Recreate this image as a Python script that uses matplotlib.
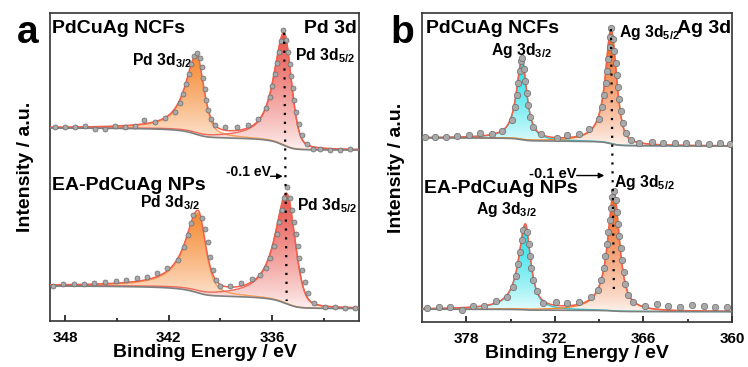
import numpy as np
import matplotlib
matplotlib.use("Agg")
import matplotlib.pyplot as plt
from matplotlib.colors import to_rgb

plt.rcParams['font.family'] = ['Liberation Sans', 'DejaVu Sans']
plt.rcParams['font.weight'] = 'bold'
plt.rcParams['mathtext.fontset'] = 'custom'
plt.rcParams['mathtext.rm'] = 'Liberation Sans:bold'
plt.rcParams['mathtext.it'] = 'Liberation Sans:bold'
plt.rcParams['mathtext.bf'] = 'Liberation Sans:bold'

# ---- measured points (binding energy / eV, intensity / a.u., stacked) ----
pd_ncf_E = [348.61, 348.03, 347.45, 346.87, 346.28, 345.70, 345.12, 344.54, 343.96, 343.42,
            342.80, 342.21, 341.63, 341.34, 341.15, 340.99, 340.85, 340.70, 340.53, 340.37,
            340.21, 340.09, 340.00, 339.92, 339.83, 339.71, 339.54, 339.31, 338.73, 338.05,
            337.41, 336.79, 336.34, 336.14, 335.99, 335.85, 335.73, 335.62, 335.50, 335.35,
            335.18, 335.06, 334.98, 334.89, 334.80, 334.71, 334.60, 334.45, 334.25, 333.99,
            333.61, 333.20, 332.62, 332.04, 331.46]
pd_ncf_I = [194, 194, 194, 195, 192, 192, 195, 194, 195, 201,
            199, 203, 209, 218, 227, 237, 247, 257, 265, 268,
            263, 254, 243, 232, 221, 211, 202, 196, 194, 194,
            196, 202, 213, 224, 235, 247, 258, 269, 280, 291,
            281, 269, 257, 245, 233, 221, 209, 197, 186, 177,
            172, 172, 171, 171, 172]

pd_np_E = [348.71, 348.13, 347.50, 346.91, 346.32, 345.70, 345.08, 344.48, 343.86, 343.24,
           342.66, 342.08, 341.48, 341.11, 340.86, 340.70, 340.57, 340.05, 339.87, 339.74,
           339.62, 339.45, 339.25, 339.02, 338.43, 337.81, 337.17, 336.69, 336.34, 336.11,
           335.91, 335.73, 335.59, 335.44, 335.31, 335.15, 334.95, 334.83, 334.73, 334.63,
           334.52, 334.41, 334.27, 334.10, 333.90, 333.55, 332.91, 332.33, 331.75, 331.17]
pd_np_I = [35, 36.7, 37, 37, 37.7, 39.3, 40, 41, 42.7, 44.3,
           47.7, 52.7, 61, 74.3, 86, 97.7, 106, 103.3, 91.7, 79,
           64, 51, 41, 35, 35, 37.7, 41.7, 46, 53, 63,
           75, 87, 99, 111, 123, 134, 123, 111, 99, 87,
           75, 63, 51, 39, 28, 18, 14.3, 13.7, 13.3, 13.3]

ag_ncf_E = [380.80, 380.12, 379.37, 378.60, 377.85, 377.05, 376.26, 375.58, 374.90, 374.71,
            374.57, 374.47, 374.38, 374.28, 374.22, 374.10, 373.99, 373.90, 373.82, 373.69,
            373.45, 372.97, 371.88, 371.16, 370.37, 369.69, 368.99, 368.82, 368.69, 368.56,
            368.46, 368.37, 368.29, 368.25, 368.20, 368.07, 367.97, 367.88, 367.80, 367.72,
            367.63, 367.53, 367.39, 367.19, 366.85, 366.29, 365.42, 364.65, 363.84, 363.11,
            362.31, 361.59, 360.80, 360.12]
ag_ncf_I = [184.7, 184.7, 184.7, 185.3, 186, 188, 187, 190.3, 201, 214,
            226, 238, 250, 260, 263, 252, 240, 228, 216, 204,
            194, 187.5, 183.7, 186.7, 187, 192.7, 202, 214, 226, 238,
            250, 262, 274, 284, 293, 282, 270, 258, 246, 234,
            222, 210, 198, 188, 181.3, 178, 179.3, 178, 178, 178,
            178, 177, 178.7, 177]

ag_np_E = [380.64, 379.84, 379.10, 378.26, 377.58, 376.78, 375.99, 375.24, 374.81, 374.61,
           374.47, 374.35, 374.24, 374.13, 373.86, 373.77, 373.68, 373.59, 373.45, 373.24,
           372.82, 371.90, 371.16, 370.39, 369.57, 369.10, 368.86, 368.70, 368.58, 368.47,
           368.37, 368.28, 368.19, 368.11, 367.99, 367.86, 367.79, 367.70, 367.63, 367.55,
           367.46, 367.35, 367.22, 367.02, 366.69, 365.90, 365.10, 364.31, 363.52, 362.72,
           361.93, 361.14, 360.34]
ag_np_I = [14, 15.3, 14.7, 12.3, 16.3, 15.7, 20.7, 24.7, 35, 46,
           58, 70, 82, 92, 90, 78, 66, 54, 42, 31,
           19, 19.7, 18.7, 19.7, 24.7, 32, 42, 54, 66, 78,
           90, 102, 114, 125, 131, 122, 110, 98, 86, 74,
           62, 50, 38, 27, 19.7, 16.3, 18, 15.7, 14.7, 17.3,
           16.3, 14.7, 14.7]

# ---- fitted components: centre, height, hwhm (high BE side), hwhm (low BE side), lorentz mix high, low ----
pd_ncf_peaks = [(340.37, 78, 0.78, 0.49, 0.9, 0.6), (335.30, 112, 0.70, 0.50, 0.85, 0.3)]
pd_np_peaks = [(340.30, 80, 0.88, 0.52, 1.0, 0.6), (335.15, 110, 0.80, 0.58, 0.95, 0.3)]
ag_ncf_peaks = [(374.22, 80, 0.45, 0.38, 0.9, 0.9), (368.20, 114, 0.45, 0.45, 1.0, 0.5)]
ag_np_peaks = [(374.00, 85, 0.55, 0.42, 1.0, 0.9), (368.00, 119, 0.50, 0.45, 1.0, 0.8)]
# Shirley background end levels (high BE end, low BE end)
pd_ncf_bg = (193, 171)
pd_np_bg = (35, 12.5)
ag_ncf_bg = (183.5, 175.5)
ag_np_bg = (12.7, 10.3)

pd_colors = ['#f58a33', '#e8524b']
ag_colors = ['#17dfe8', '#ee5f14']
pd_lines = ['#f6a05a', '#ef6a5a']
ag_lines = ['#2cc9d2', '#f5892e']
env_color = '#f25f4c'


def peak(E, c, h, wl, wr, ml, mr):
    d = E - c
    w = np.where(d > 0, wl, wr)
    m = np.where(d > 0, ml, mr)
    u = d / w
    return h * (m / (1 + u ** 2) + (1 - m) * np.exp(-np.log(2) * u ** 2))


def grad_fill(ax, x, lo, hi, color):
    poly = ax.fill_between(x, lo, hi, color='none', lw=0)
    rgb = np.array(to_rgb(color))
    t = np.linspace(0.04, 1, 256) ** 0.8
    img = np.ones((256, 1, 3)) * (1 - t)[:, None, None] + rgb[None, None, :] * t[:, None, None]
    im = ax.imshow(img, extent=[x.min(), x.max(), lo.min(), hi.max()], origin='lower',
                   aspect='auto', zorder=1, interpolation='bilinear')
    im.set_clip_path(poly.get_paths()[0], transform=ax.transData)


def spectrum(ax, E, I, peaks, bg_ends, xr, fills, lines, ms):
    x = np.linspace(xr[1], xr[0], 1500)
    comps = [peak(x, *p) for p in peaks]
    total = np.sum(comps, axis=0)
    cum = np.cumsum(total)
    bg = bg_ends[1] + (bg_ends[0] - bg_ends[1]) * cum / cum[-1]
    for comp, fc, lc in zip(comps, fills, lines):
        grad_fill(ax, x, bg, bg + comp, fc)
        ax.plot(x, bg + comp, color=lc, lw=1.0, zorder=2)
    ax.plot(x, bg + total, color=env_color, lw=1.1, zorder=3)
    ax.plot(x, bg, color='#7f7f7f', lw=1.2, zorder=3)
    ax.plot(E, I, 'o', ms=ms, mfc='#a9a9a9', mec='#6b6b6b', mew=0.5, zorder=4)
    return bg + total


fig = plt.figure(figsize=(7.48, 3.67), dpi=100)
ax1 = fig.add_axes([0.0668, 0.1253, 0.4131, 0.8392])
ax2 = fig.add_axes([0.5642, 0.1226, 0.4144, 0.8420])

xa = (348.9, 330.95)
xb = (381, 360)

env1 = spectrum(ax1, pd_ncf_E, pd_ncf_I, pd_ncf_peaks, pd_ncf_bg, xa, pd_colors, pd_lines, 3.6)
spectrum(ax1, pd_np_E, pd_np_I, pd_np_peaks, pd_np_bg, xa, pd_colors, pd_lines, 3.6)
env2 = spectrum(ax2, ag_ncf_E, ag_ncf_I, ag_ncf_peaks, ag_ncf_bg, xb, ag_colors, ag_lines, 4.6)
spectrum(ax2, ag_np_E, ag_np_I, ag_np_peaks, ag_np_bg, xb, ag_colors, ag_lines, 4.6)

# dotted guide lines through the 3d5/2 maxima
ax1.plot([pd_ncf_peaks[1][0], pd_np_peaks[1][0]], [env1.max(), 20], color='k',
         ls=(0, (1, 3)), lw=1.6, zorder=5)
ax2.plot([ag_ncf_peaks[1][0], ag_np_peaks[1][0]], [env2.max(), 28], color='k',
         ls=(0, (1, 3)), lw=1.6, zorder=5)

for ax, xr, major, minor in [(ax1, xa, [348, 342, 336], [345, 339, 333]),
                             (ax2, xb, [378, 372, 366, 360], [375, 369, 363])]:
    ax.set_xlim(*xr)
    ax.set_ylim(0, 308)
    ax.set_xticks(major)
    ax.set_xticks(minor, minor=True)
    ax.set_yticks([])
    ax.tick_params(axis='x', which='both', direction='in', labelsize=11, pad=7, width=1.1)
    ax.tick_params(axis='x', which='major', length=4)
    ax.tick_params(axis='x', which='minor', length=2.5)
    for lab in ax.get_xticklabels():
        lab.set_fontweight('bold')
    for s in ax.spines.values():
        s.set_linewidth(1.2)
        s.set_color('#333333')
    ax.set_xlabel('Binding Energy / eV', fontsize=14, fontweight='bold')
    ax.set_ylabel('Intensity / a.u.', fontsize=14, fontweight='bold')
    ax.xaxis.set_label_coords(0.5, -0.075)

ax1.yaxis.set_label_coords(-0.052, 0.5)
ax2.yaxis.set_label_coords(-0.055, 0.5)

tA = ax1.transAxes
ax1.text(0.006, 0.934, 'PdCuAg NCFs', transform=tA, fontsize=14, fontweight='bold', va='baseline')
ax1.text(0.993, 0.934, 'Pd 3d', transform=tA, fontsize=14, fontweight='bold', va='baseline', ha='right')
ax1.text(0.265, 0.831, r'Pd 3d$_{3/2}$', transform=tA, fontsize=11.3, va='baseline')
ax1.text(0.793, 0.847, r'Pd 3d$_{5/2}$', transform=tA, fontsize=11.3, va='baseline')
ax1.text(0.006, 0.425, 'EA-PdCuAg NPs', transform=tA, fontsize=14, fontweight='bold', va='baseline')
ax1.text(0.291, 0.369, r'Pd 3d$_{3/2}$', transform=tA, fontsize=11.3, va='baseline')
ax1.text(0.799, 0.360, r'Pd 3d$_{5/2}$', transform=tA, fontsize=11.3, va='baseline')
ax1.text(0.715, 0.470, '-0.1 eV', transform=tA, fontsize=10, va='baseline', ha='right')
ax1.annotate('', xy=(0.762, 0.470), xytext=(0.705, 0.470), xycoords='axes fraction',
             arrowprops=dict(arrowstyle='-|>', color='k', lw=1.0, mutation_scale=8))

tB = ax2.transAxes
ax2.text(0.013, 0.934, 'PdCuAg NCFs', transform=tB, fontsize=14, fontweight='bold', va='baseline')
ax2.text(0.996, 0.934, 'Ag 3d', transform=tB, fontsize=14, fontweight='bold', va='baseline', ha='right')
ax2.text(0.222, 0.864, r'Ag 3d$_{3/2}$', transform=tB, fontsize=11.3, va='baseline')
ax2.text(0.635, 0.921, r'Ag 3d$_{5/2}$', transform=tB, fontsize=11.3, va='baseline')
ax2.text(0.006, 0.417, 'EA-PdCuAg NPs', transform=tB, fontsize=14, fontweight='bold', va='baseline')
ax2.text(0.173, 0.350, r'Ag 3d$_{3/2}$', transform=tB, fontsize=11.3, va='baseline')
ax2.text(0.619, 0.437, r'Ag 3d$_{5/2}$', transform=tB, fontsize=11.3, va='baseline')
ax2.text(0.345, 0.466, '-0.1 eV', transform=tB, fontsize=10.5, va='baseline')
ax2.annotate('', xy=(0.597, 0.474), xytext=(0.49, 0.474), xycoords='axes fraction',
             arrowprops=dict(arrowstyle='-|>', color='k', lw=1.0, mutation_scale=8))

fig.text(0.022, 0.883, 'a', fontsize=28, fontweight='bold', va='baseline')
fig.text(0.522, 0.883, 'b', fontsize=28, fontweight='bold', va='baseline')

fig.savefig('out.png', dpi=100)
